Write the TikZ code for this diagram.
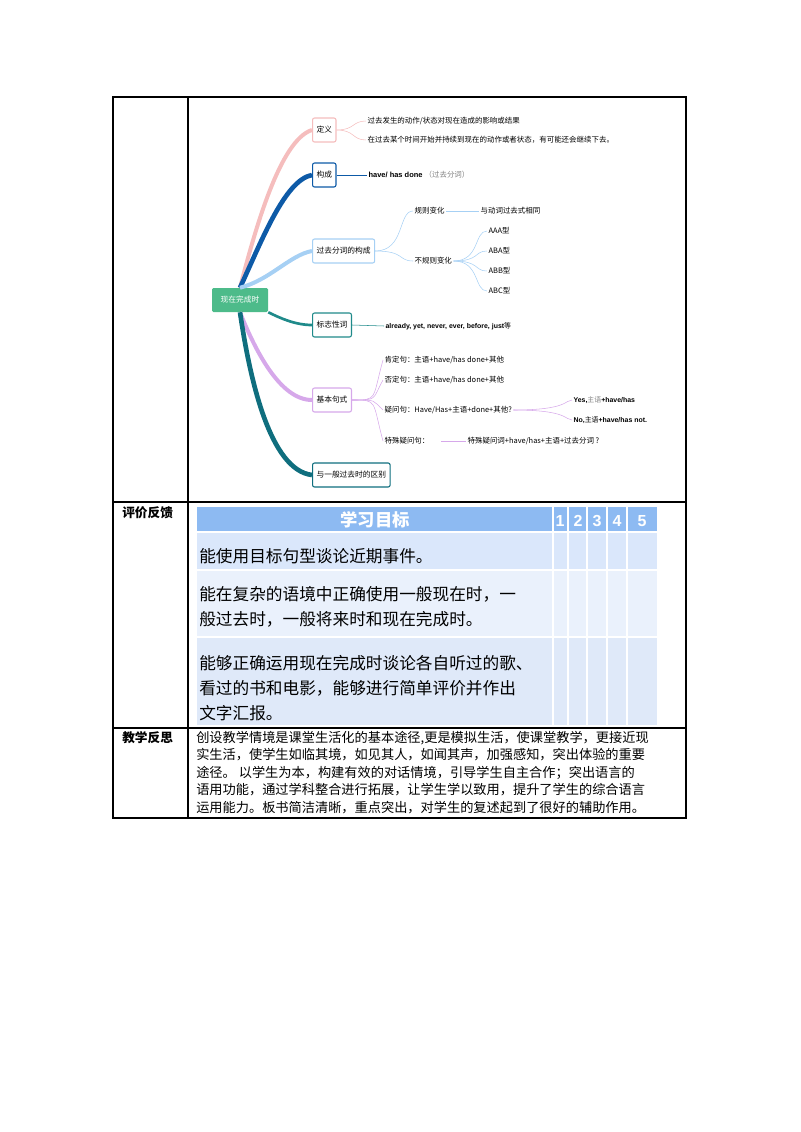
\documentclass[tikz,border=0pt]{standalone}
\usepackage{fontspec}
\setmainfont{Liberation Sans}
\newfontfamily\cjk{Noto Sans CJK SC}
\usetikzlibrary{positioning}
\definecolor{rootgreen}{HTML}{4DBB8A}
\definecolor{mpink}{HTML}{F5BDBD}
\definecolor{mblue}{HTML}{0D5AA7}
\definecolor{mlight}{HTML}{A6D0F4}
\definecolor{mteal}{HTML}{1F8A8A}
\definecolor{mpurple}{HTML}{D6A8EA}
\definecolor{mdark}{HTML}{0F6E7E}
\definecolor{hdrblue}{HTML}{8DBAF2}
\definecolor{rowa}{HTML}{DAE7FB}
\definecolor{rowb}{HTML}{EAF1FC}
\definecolor{rowc}{HTML}{DFE9F9}
\tikzset{
  topic/.style={draw=#1,thick,rounded corners=1.5pt,fill=white,anchor=west,
    inner sep=3pt,minimum height=18pt,font=\cjk\fontsize{5.8}{6}\selectfont},
  leaf/.style={anchor=west,inner sep=1pt,font=\cjk\fontsize{5.6}{6}\selectfont},
  branch/.style={line width=#1},
  twig/.style={draw=#1,thin},
  rowtxt/.style={anchor=west,inner sep=0pt,font=\cjk\fontsize{12.5}{19}\selectfont,align=left}
}
\begin{document}
\begin{tikzpicture}[x=0.75pt,y=-0.75pt]
\useasboundingbox (0,0) rectangle (800,1132);
% table frame
\draw[line width=0.8pt] (113,97) rectangle (686,818);
\draw[line width=0.8pt] (188,97) -- (188,818);
\draw[line width=0.8pt] (113,502) -- (686,502) (113,728) -- (686,728);
\node[anchor=north west,inner sep=0pt,font=\cjk\bfseries\fontsize{9.5}{10}\selectfont] (lab1) at (122,506) {评价反馈};
\node[anchor=north west,inner sep=0pt,font=\cjk\bfseries\fontsize{9.5}{10}\selectfont] (lab2) at (122,731) {教学反思};

% mind map
\node[fill=rootgreen,text=white,rounded corners=1pt,minimum width=42pt,minimum height=18pt,
  font=\cjk\fontsize{5.8}{6}\selectfont] (root) at (240,300) {现在完成时};
\node[topic=mpink] (def) at (312,130) {定义};
\node[topic=mblue] (form) at (312,175) {构成};
\node[topic=mlight] (pp) at (312,251) {过去分词的构成};
\node[topic=mteal] (sig) at (312,325) {标志性词};
\node[topic=mpurple] (pat) at (312,400) {基本句式};
\node[topic=mdark] (diff) at (312,475) {与一般过去时的区别};
\draw[branch=3pt,mpink] (root.north) .. controls (255,230) and (280,140) .. (def.west);
\draw[branch=3.5pt,mblue] (root.north) .. controls (262,240) and (285,180) .. (form.west);
\draw[branch=3pt,mlight] (root.north) .. controls (270,280) and (290,255) .. (pp.west);
\draw[branch=2pt,mteal] (root.south east) .. controls (280,318) and (295,325) .. (sig.west);
\draw[branch=3pt,mpurple] (root.south) .. controls (255,350) and (280,400) .. (pat.west);
\draw[branch=3.5pt,mdark] (root.south) .. controls (250,380) and (270,470) .. (diff.west);
% 定义
\node[leaf] (d1) at (366,121) {过去发生的动作/状态对现在造成的影响或结果};
\node[leaf] (d2) at (366,140) {在过去某个时间开始并持续到现在的动作或者状态，有可能还会继续下去。};
\draw[twig=mpink] (def.east) .. controls (355,130) and (352,121) .. (d1.west);
\draw[twig=mpink] (def.east) .. controls (355,130) and (352,140) .. (d2.west);
% 构成
\node[leaf,font=\bfseries\fontsize{5.6}{6}\selectfont] (f1) at (367,175) {have/ has done {\cjk\mdseries\color{gray}（过去分词）}};
\draw[twig=mblue] (form.east) -- (f1.west);
% 过去分词
\node[leaf] (reg) at (413,211) {规则变化};
\node[leaf] (same) at (479,211) {与动词过去式相同};
\node[leaf] (irr) at (413,261) {不规则变化};
\draw[twig=mlight] (pp.east) .. controls (405,251) and (398,211) .. (reg.west);
\draw[twig=mlight] (pp.east) .. controls (405,251) and (398,261) .. (irr.west);
\draw[twig=mlight] (reg.east) -- (same.west);
\foreach \t/\y [count=\i] in {AAA型/231,ABA型/251,ABB型/271,ABC型/291}{
  \node[leaf] (ty\i) at (487,\y) {\t};
  \draw[twig=mlight] (irr.east) .. controls (480,261) and (474,\y) .. (ty\i.west);
}
% 标志性词
\node[leaf,font=\bfseries\fontsize{5.2}{6}\selectfont] (s1) at (384,326) {already, yet, never, ever, before, just{\cjk\mdseries 等}};
\draw[twig=mteal] (sig.east) -- (s1.west);
% 基本句式
\node[leaf] (p1) at (383,360) {肯定句：主语+have/has done+其他};
\node[leaf] (p2) at (383,380) {否定句：主语+have/has done+其他};
\node[leaf] (p3) at (383,410) {疑问句：Have/Has+主语+done+其他?};
\node[leaf] (p4) at (383,441) {特殊疑问句：};
\node[leaf] (p5) at (466,441) {特殊疑问词+have/has+主语+过去分词 ?};
\foreach \n in {p1,p2,p3,p4}
  \draw[twig=mpurple] (pat.east) .. controls (378,400) and (372,400) .. (\n.west);
\draw[twig=mpurple] (p4.east) ++(10,0) coordinate (p4e) (p4e) -- (p5.west);
\node[leaf,font=\bfseries\fontsize{5.2}{6}\selectfont] (yes) at (572,400) {Yes,{\cjk\mdseries\color{gray}主语}+have/has};
\node[leaf,font=\bfseries\fontsize{5.2}{6}\selectfont] (no) at (572,420) {No,{\cjk\mdseries 主语}+have/has not.};
\draw[twig=mpurple] (p3.east) .. controls (568,410) and (565,400) .. (yes.west);
\draw[twig=mpurple] (p3.east) .. controls (568,410) and (565,420) .. (no.west);

% goals table
\fill[hdrblue] (197,507) rectangle (657,532);
\fill[rowa] (197,532) rectangle (657,570);
\fill[rowb] (197,570) rectangle (657,637);
\fill[rowc] (197,637) rectangle (657,725);
\foreach \x in {553,568,587,607,627} \draw[white,thick] (\x,507) -- (\x,725);
\draw[white,thick] (197,532) -- (657,532) (197,570) -- (657,570) (197,637) -- (657,637);
\node[text=white,font=\cjk\bfseries\fontsize{13}{14}\selectfont] (goal) at (375,520) {学习目标};
\foreach \n/\x in {1/560,2/578,3/597,4/617,5/642}
  \node[text=white,font=\bfseries\fontsize{12}{14}\selectfont] (h\n) at (\x,521) {\n};
\node[rowtxt] (g1) at (199,556) {能使用目标句型谈论近期事件。};
\node[rowtxt] (g2) at (199,607) {能在复杂的语境中正确使用一般现在时，一\\般过去时，一般将来时和现在完成时。};
\node[rowtxt] (g3) at (199,688) {能够正确运用现在完成时谈论各自听过的歌、\\看过的书和电影，能够进行简单评价并作出\\文字汇报。};

% reflection
\node[anchor=north west,inner sep=0pt,align=left,font=\cjk\fontsize{9.9}{13.1}\selectfont] (refl) at (196,731)
 {创设教学情境是课堂生活化的基本途径,更是模拟生活，使课堂教学，更接近现\\
  实生活，使学生如临其境，如见其人，如闻其声，加强感知，突出体验的重要\\
  途径。 以学生为本，构建有效的对话情境，引导学生自主合作；突出语言的\\
  语用功能，通过学科整合进行拓展，让学生学以致用，提升了学生的综合语言\\
  运用能力。板书简洁清晰，重点突出，对学生的复述起到了很好的辅助作用。};
\end{tikzpicture}
\end{document}
